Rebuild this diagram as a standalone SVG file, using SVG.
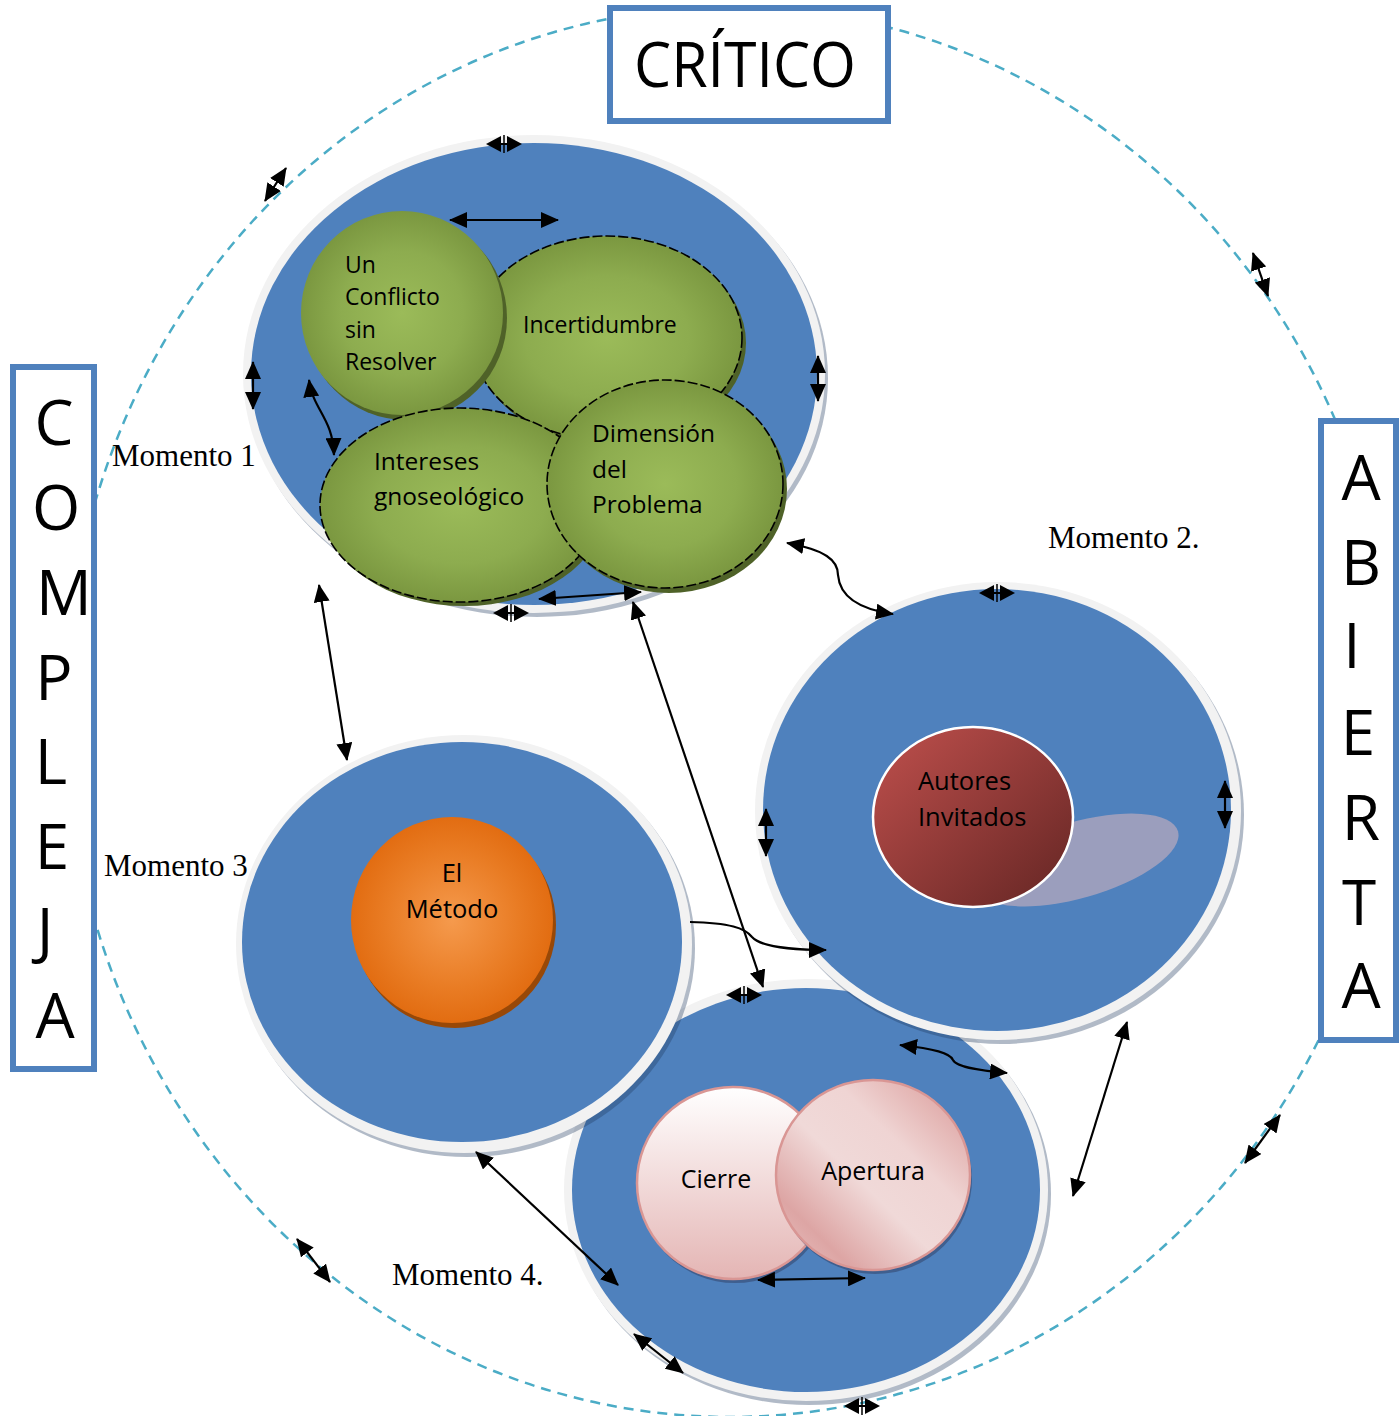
<svg xmlns="http://www.w3.org/2000/svg" width="1399" height="1416" viewBox="0 0 1399 1416">
<defs>
<style>
.lbl{font-family:"Open Sans","Liberation Sans",sans-serif;fill:#000}
.big{font-size:62px;text-anchor:middle}
.mom{font-family:"Liberation Serif","Times New Roman",serif;font-size:31px;fill:#000}
.box{fill:#fff;stroke:#4F81BD;stroke-width:6}
.ring{fill:#F2F2F2}
.disk{fill:#4F81BD}
.dsh{fill:#1F3A5F;opacity:.35}
.gsh{fill:#4F6228}
.gr{fill:url(#gGreen)}
.gedge{stroke:#000;stroke-width:1.6;stroke-dasharray:10 3}
.con{fill:none;stroke:#000;stroke-width:2.2}
.dbl{marker-start:url(#ah);marker-end:url(#ah)}
.end{marker-end:url(#ah)}
</style>
<marker id="ah" viewBox="0 0 18 16" refX="17" refY="8" markerWidth="18" markerHeight="16" markerUnits="userSpaceOnUse" orient="auto-start-reverse"><path d="M0,0 L18,8 L0,16 Z" fill="#000"/></marker>
<g id="tiny"><path d="M-18,0 L-3,-8 L-3,8 Z M18,0 L3,-8 L3,8 Z" fill="#000"/><line x1="-3" y1="0" x2="3" y2="0" stroke="#000" stroke-width="2"/><line x1="0" y1="-9" x2="0" y2="9" stroke="#000" stroke-width="1.5"/></g>
<radialGradient id="gGreen" cx="50%" cy="50%" r="55%"><stop offset="0" stop-color="#9BBB59"/><stop offset="0.55" stop-color="#8DAC4F"/><stop offset="1" stop-color="#76923C"/></radialGradient>
<radialGradient id="gOrange" cx="50%" cy="50%" r="55%"><stop offset="0" stop-color="#F59A4D"/><stop offset="0.6" stop-color="#E97C24"/><stop offset="1" stop-color="#E0680C"/></radialGradient>
<linearGradient id="gRed" x1="0" y1="0" x2="1" y2="1"><stop offset="0" stop-color="#C0504D"/><stop offset="1" stop-color="#632523"/></linearGradient>
<linearGradient id="gCierre" x1="0" y1="0" x2="0" y2="1"><stop offset="0" stop-color="#FFFFFF"/><stop offset="1" stop-color="#E4B5B4"/></linearGradient>
<linearGradient id="gApert" x1="1" y1="0" x2="0" y2="1"><stop offset="0" stop-color="#D99694"/><stop offset="0.35" stop-color="#EFD4D3"/><stop offset="0.55" stop-color="#F0D9D8"/><stop offset="0.8" stop-color="#DDA5A4"/><stop offset="1" stop-color="#E9C5C4"/></linearGradient>
</defs>
<rect x="0" y="0" width="1399" height="1416" fill="#fff"/>

<g id="outer-cycle">
<ellipse cx="730" cy="712" rx="665" ry="705" fill="none" stroke="#4BACC6" stroke-width="2.5" stroke-dasharray="10 7"/>
</g>

<g id="critico">
<rect class="box" x="610" y="8" width="278" height="113"/>
<text class="lbl" x="634" y="87" font-size="63" textLength="222" lengthAdjust="spacingAndGlyphs">CRÍTICO</text>
</g>

<g id="compleja">
<rect class="box" x="13" y="367" width="81" height="702"/>
<text class="lbl big" x="54" y="445">C</text>
<text class="lbl big" x="56" y="530">O</text>
<text class="lbl big" x="64" y="615">M</text>
<text class="lbl big" x="54" y="700">P</text>
<text class="lbl big" x="51" y="784">L</text>
<text class="lbl big" x="52" y="869">E</text>
<text class="lbl big" x="45" y="953">J</text>
<text class="lbl big" x="55" y="1038">A</text>
</g>

<g id="abierta">
<rect class="box" x="1321" y="421" width="75" height="619"/>
<text class="lbl big" x="1361" y="500">A</text>
<text class="lbl big" x="1361" y="585">B</text>
<text class="lbl big" x="1352" y="668">I</text>
<text class="lbl big" x="1358" y="755">E</text>
<text class="lbl big" x="1361" y="840">R</text>
<text class="lbl big" x="1359" y="925">T</text>
<text class="lbl big" x="1361" y="1008">A</text>
</g>

<g id="momento4">
<ellipse class="dsh" cx="809" cy="1194" rx="242" ry="211"/>
<ellipse class="ring" cx="806" cy="1190" rx="242" ry="211"/>
<ellipse class="disk" cx="806" cy="1190" rx="234" ry="202"/>
<g id="cierre">
<ellipse cx="735" cy="1187" rx="96" ry="96" fill="#3F5F8F"/>
<ellipse cx="733" cy="1183" rx="96" ry="96" fill="url(#gCierre)" stroke="#D99694" stroke-width="2.5"/>
<text class="lbl" x="716" y="1188" font-size="25" text-anchor="middle">Cierre</text>
</g>
<g id="apertura">
<ellipse cx="875" cy="1179" rx="97" ry="95" fill="#3F5F8F"/>
<ellipse cx="873" cy="1175" rx="97" ry="95" fill="url(#gApert)" stroke="#D99694" stroke-width="2.5"/>
<text class="lbl" x="873" y="1180" font-size="25" text-anchor="middle">Apertura</text>
</g>
</g>

<g id="momento3">
<ellipse class="dsh" cx="467" cy="948" rx="228" ry="209"/>
<ellipse class="ring" cx="464" cy="944" rx="228" ry="209"/>
<ellipse class="disk" cx="462" cy="942" rx="220" ry="200"/>
<g id="metodo">
<ellipse cx="455" cy="925" rx="101" ry="103" fill="#984807"/>
<ellipse cx="452" cy="920" rx="101" ry="103" fill="url(#gOrange)"/>
<text class="lbl" x="452" y="882" font-size="25.5" text-anchor="middle">El</text>
<text class="lbl" x="452" y="918" font-size="25.5" text-anchor="middle">Método</text>
</g>
</g>

<g id="momento2">
<ellipse class="dsh" cx="1001" cy="815" rx="243" ry="229"/>
<ellipse class="ring" cx="998" cy="811" rx="243" ry="229"/>
<ellipse class="disk" cx="997" cy="810" rx="234" ry="221"/>
<g id="autores">
<ellipse cx="1078" cy="860" rx="104" ry="38" transform="rotate(-16 1078 860)" fill="#9B9EBD"/>
<ellipse cx="973" cy="817" rx="100" ry="90" fill="url(#gRed)" stroke="#fff" stroke-width="2.5"/>
<text class="lbl" x="918" y="790" font-size="25.5">Autores</text>
<text class="lbl" x="918" y="826" font-size="25.5">Invitados</text>
</g>
</g>

<g id="momento1">
<ellipse class="dsh" cx="537" cy="378" rx="291" ry="239"/>
<ellipse class="ring" cx="534" cy="374" rx="291" ry="239"/>
<ellipse class="disk" cx="534" cy="374" rx="283" ry="231"/>
<g id="incertidumbre">
<ellipse class="gsh" cx="611" cy="343" rx="135" ry="102"/>
<ellipse class="gr gedge" cx="607" cy="338" rx="135" ry="102"/>
<text class="lbl" x="523" y="333" font-size="23">Incertidumbre</text>
</g>
<g id="conflicto">
<ellipse class="gsh" cx="406" cy="318" rx="101" ry="102"/>
<ellipse class="gr" cx="402" cy="313" rx="101" ry="102"/>
<text class="lbl" x="345" y="273" font-size="23">Un</text>
<text class="lbl" x="345" y="305" font-size="23">Conflicto</text>
<text class="lbl" x="345" y="338" font-size="23">sin</text>
<text class="lbl" x="345" y="370" font-size="23">Resolver</text>
</g>
<g id="intereses">
<ellipse class="gsh" cx="464" cy="509" rx="140" ry="97"/>
<ellipse class="gr gedge" cx="460" cy="505" rx="140" ry="97"/>
<text class="lbl" x="374" y="470" font-size="24.5">Intereses</text>
<text class="lbl" x="374" y="505" font-size="24.5">gnoseológico</text>
</g>
<g id="dimension">
<ellipse class="gsh" cx="669" cy="489" rx="118" ry="104"/>
<ellipse class="gr gedge" cx="665" cy="484" rx="118" ry="104"/>
<text class="lbl" x="592" y="442" font-size="24.5">Dimensión</text>
<text class="lbl" x="592" y="478" font-size="24.5">del</text>
<text class="lbl" x="592" y="513" font-size="24.5">Problema</text>
</g>
</g>

<g id="labels">
<text class="mom" x="112" y="466">Momento 1</text>
<text class="mom" x="1048" y="548">Momento 2.</text>
<text class="mom" x="104" y="876">Momento 3</text>
<text class="mom" x="392" y="1285">Momento 4.</text>
</g>

<g id="connectors">
<path class="con dbl" d="M450,220 L558,220"/>
<path class="con dbl" d="M253,362 L253,409"/>
<path class="con dbl" d="M818,356 L818,401"/>
<path class="con dbl" d="M309,380 C313,410 333,418 334,455"/>
<path class="con dbl" d="M539,599 L641,592"/>
<path class="con dbl" d="M319,585 L347,760"/>
<path class="con dbl" d="M633,602 L763,987"/>
<path class="con dbl" d="M787,543 C825,550 838,560 838,575 C840,600 865,610 893,614"/>
<path class="con end" d="M690,922 C730,923 745,928 752,937 C760,946 790,950 826,950"/>
<path class="con dbl" d="M766,809 L766,856"/>
<path class="con dbl" d="M1225,781 L1225,828"/>
<path class="con dbl" d="M1127,1022 L1073,1196"/>
<path class="con dbl" d="M476,1152 L618,1285"/>
<path class="con dbl" d="M900,1045 C935,1049 950,1053 953,1060 C957,1068 985,1071 1007,1073"/>
<path class="con dbl" d="M758,1280 L865,1278"/>
<path class="con dbl" d="M634,1334 L683,1373"/>
<path class="con dbl" d="M286,168 L265,201"/>
<path class="con dbl" d="M1253,253 L1268,296"/>
<path class="con dbl" d="M1280,1115 L1245,1163"/>
<path class="con dbl" d="M297,1239 L330,1282"/>
<use href="#tiny" x="504" y="144"/>
<use href="#tiny" x="511" y="613"/>
<use href="#tiny" x="997" y="593"/>
<use href="#tiny" x="744" y="995"/>
<use href="#tiny" x="862" y="1406"/>
</g>
</svg>
